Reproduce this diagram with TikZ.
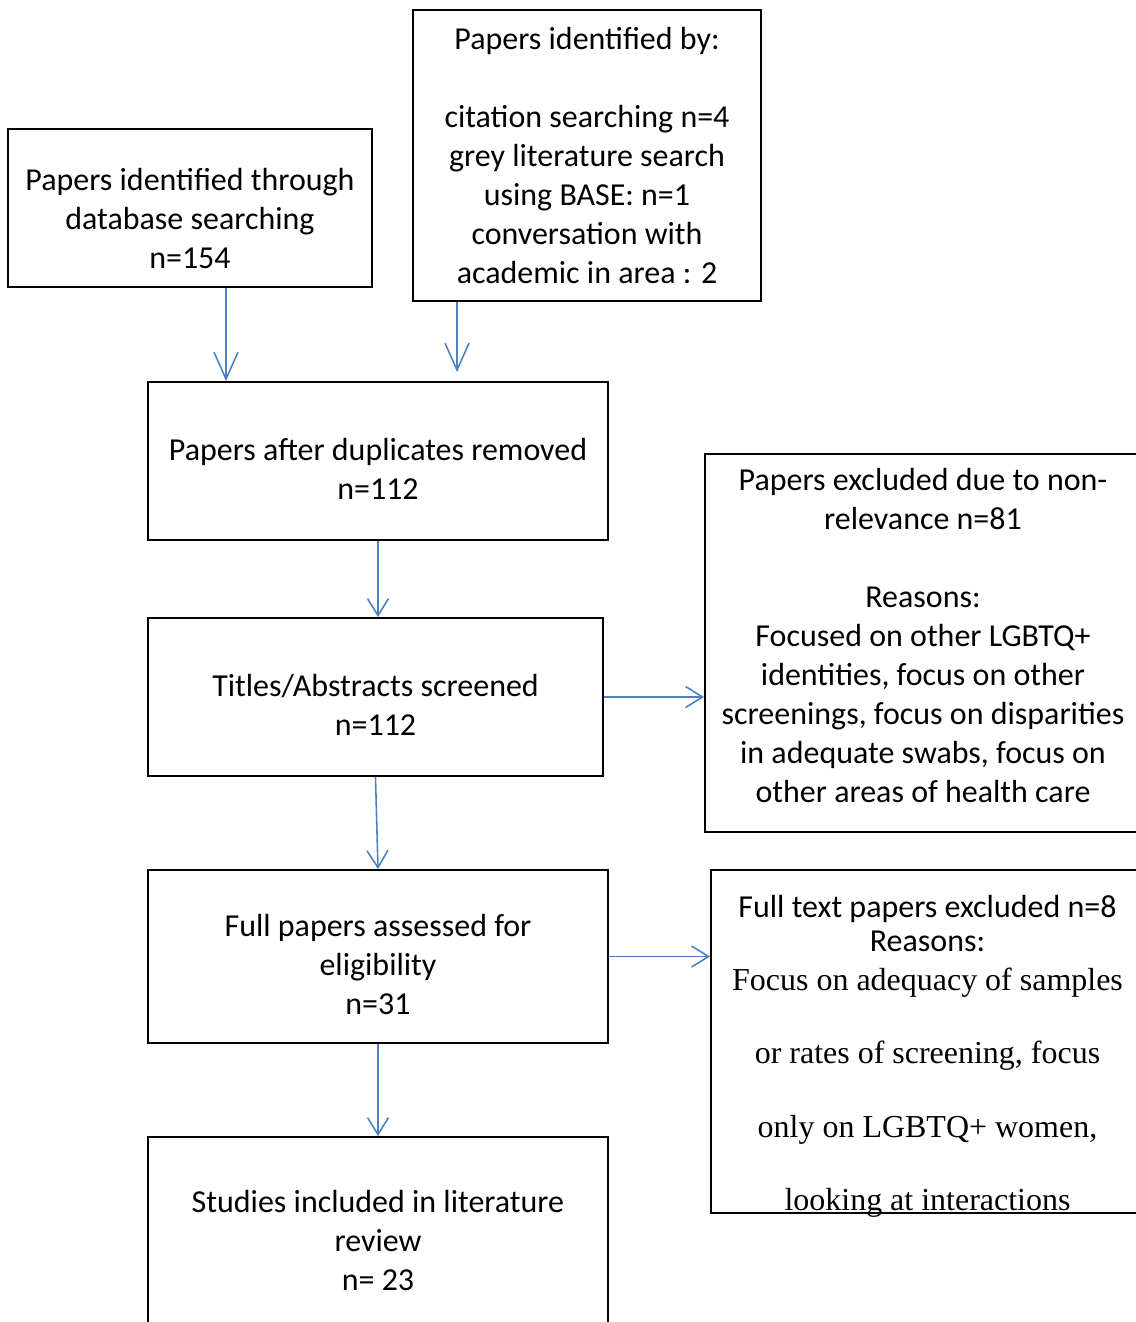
\documentclass[tikz,border=0pt]{standalone}
\usepackage{fontspec}
\setmainfont{Carlito}
\newfontfamily\timesfont{Liberation Serif}
\usepackage{tikz}
\usetikzlibrary{calc,positioning,arrows.meta}

\definecolor{flowblue}{HTML}{4F81BD}
% struts that move a box's text down (top) or up (bottom)
\newcommand{\toppad}[1]{\rule{0pt}{#1}}
\newcommand{\botpad}[1]{\rule[-#1]{0pt}{#1}}

\begin{document}
\begin{tikzpicture}[
    x=0.02cm, y=-0.02cm,
    align=center,
    font=\fontsize{18.2}{22.2}\selectfont,
    stage/.style={rectangle, draw=black, line width=1.1pt, inner sep=0pt},
    excl/.style={rectangle, draw=black, line width=1.1pt, inner sep=0pt},
    flow/.style={-{Straight Barb[length=0.34cm, width=0.42cm]}, line width=0.9pt, flowblue},
    bigflow/.style={-{Straight Barb[length=0.54cm, width=0.48cm]}, line width=0.9pt, flowblue},
  ]

  \useasboundingbox (0,0) rectangle (1136,1322);
  \clip (0,0) rectangle (1136,1322);

  % identification
  \node (db)      [stage, minimum width=7.28cm, minimum height=3.16cm] at (190,208)
                  {\toppad{25pt}Papers identified through\\ database searching\\ n=154};

  \node (other)   [stage, minimum width=6.96cm, minimum height=5.82cm] at (587,155.5)
                  {Papers identified by:\\[22.2pt] citation searching n=4\\ grey literature search\\
                   using BASE: n=1\\ conversation with\\ academic in area : 2};

  % screening
  \node (dup)     [stage, minimum width=9.2cm, minimum height=3.16cm] at (378,461)
                  {\toppad{21.5pt}Papers after duplicates removed\\ n=112};

  \node (screen)  [stage, minimum width=9.1cm, minimum height=3.16cm] at (375.5,697)
                  {\toppad{21.5pt}Titles/Abstracts screened\\ n=112};

  \node (excl)    [excl, minimum width=8.72cm, minimum height=7.56cm] at (923,643)
                  {Papers excluded due to non-\\ relevance n=81\\[22.2pt] Reasons:\\
                   Focused on other LGBTQ+\\ identities, focus on other\\
                   screenings, focus on disparities\\ in adequate swabs, focus on\\
                   other areas of health care\botpad{9pt}};

  % eligibility
  \node (full)    [stage, minimum width=9.2cm, minimum height=3.46cm] at (378,956.5)
                  {\toppad{21.5pt}Full papers assessed for\\ eligibility\\ n=31};

  % text runs over the lower edge of this box
  \node (ftext)   [excl, minimum width=8.66cm, minimum height=6.86cm,
                   label={[anchor=north, inner sep=0pt, yshift=-0.51cm, align=center]north:
                   Full text papers excluded n=8\\[-2.8pt] Reasons:\\
                   {\timesfont Focus on adequacy of samples}\\[19.6pt]
                   {\timesfont or rates of screening, focus}\\[19.6pt]
                   {\timesfont only on LGBTQ+ women,}\\[19.6pt]
                   {\timesfont looking at interactions}}] at (927.5,1041.5) {};

  % included
  \node (incl)    [stage, minimum width=9.2cm, minimum height=4.12cm] at (378,1240)
                  {Studies included in literature\\ review\\ n= 23};

  % flow
  \draw[bigflow]  ([xshift=0.72cm]db.south) -- ([xshift=0.72cm]db.south |- dup.north);
  \draw[bigflow]  ([xshift=-2.6cm]other.south) -- ([xshift=-2.6cm,yshift=0.18cm]other.south |- dup.north);
  \draw[flow]     (dup.south) -- (dup.south |- screen.north);
  \draw[flow]     (screen.east) -- (screen.east -| excl.west);
  \draw[flow]     (screen.south) -- (full.north);
  \draw[flow]     (full.east) -- (full.east -| ftext.west);
  \draw[flow]     (full.south) -- (incl.north);

\end{tikzpicture}
\end{document}
